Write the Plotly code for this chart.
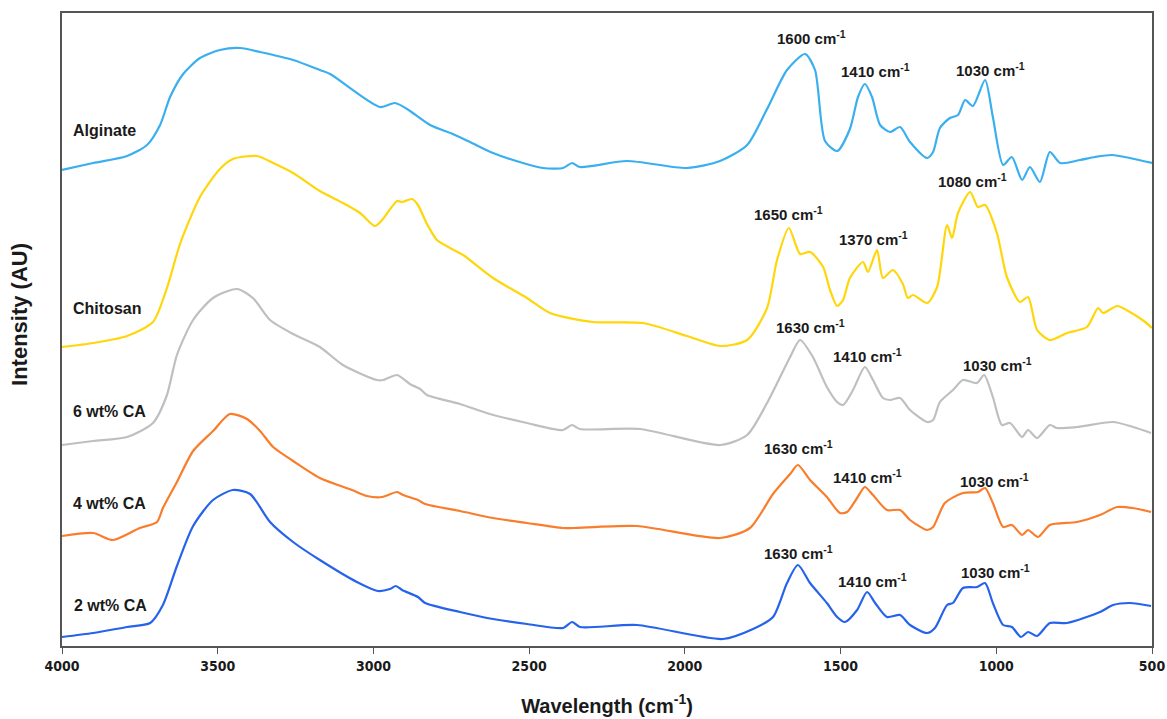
import plotly.graph_objects as go

# ---- Data (wavenumber in cm^-1, intensity in arbitrary units, offset stacked) ----
alg_wn = [4000, 3900, 3791, 3727, 3685, 3653, 3611, 3557, 3493, 3428, 3364, 3258, 3172, 3139,
          2979, 2931, 2892, 2818, 2745, 2690, 2616, 2520, 2455, 2391, 2362, 2337, 2186, 1993,
          1887, 1800, 1736, 1672, 1614, 1582, 1550, 1511, 1470, 1444, 1422, 1399, 1373, 1341,
          1309, 1277, 1222, 1203, 1181, 1149, 1123, 1100, 1075, 1036, 1011, 978, 950, 917,
          892, 860, 828, 795, 731, 683, 628, 571, 500]
alg_i = [476, 483, 490, 501, 521, 549, 572, 588, 596, 598, 594, 586, 576, 572,
         539, 543, 537, 521, 512, 504, 493, 483, 478, 478, 483, 479, 485, 478,
         485, 501, 537, 576, 592, 576, 505, 495, 517, 549, 562, 549, 521, 514,
         519, 504, 488, 494, 518, 528, 531, 546, 540, 566, 529, 481, 489, 466,
         479, 464, 494, 483, 486, 489, 491, 488, 483]

chi_wn = [4000, 3900, 3791, 3708, 3663, 3621, 3557, 3493, 3451, 3374, 3322, 3258, 3172, 3098,
          3043, 2995, 2972, 2924, 2908, 2876, 2857, 2828, 2796, 2754, 2712, 2616, 2507, 2433,
          2295, 2134, 1993, 1887, 1800, 1736, 1704, 1666, 1630, 1598, 1556, 1534, 1511, 1492,
          1470, 1428, 1412, 1383, 1364, 1332, 1300, 1284, 1267, 1222, 1190, 1158, 1142, 1123,
          1084, 1059, 1036, 998, 966, 924, 898, 869, 828, 773, 709, 673, 657, 612, 571, 522, 500]
chi_i = [299, 303, 310, 324, 358, 402, 449, 477, 487, 490, 483, 473, 455, 443,
         433, 420, 426, 445, 444, 447, 441, 422, 406, 398, 391, 368, 348, 333,
         324, 323, 310, 300, 306, 338, 386, 418, 392, 394, 379, 356, 340, 346,
         368, 384, 374, 396, 368, 376, 362, 348, 351, 343, 359, 421, 408, 433,
         454, 439, 441, 413, 369, 344, 349, 316, 306, 313, 319, 338, 333, 340, 334, 324, 318]

ca6_wn = [4000, 3900, 3791, 3708, 3663, 3631, 3579, 3515, 3438, 3387, 3332, 3258, 3172, 3098,
          2989, 2969, 2924, 2883, 2850, 2828, 2722, 2626, 2507, 2391, 2362, 2337, 2144, 1887,
          1800, 1736, 1662, 1630, 1589, 1544, 1511, 1492, 1460, 1422, 1396, 1364, 1341, 1309,
          1277, 1222, 1203, 1181, 1139, 1107, 1062, 1039, 1011, 982, 956, 917, 898, 869, 828,
          805, 741, 625, 561, 503]
ca6_i = [201, 205, 209, 223, 251, 291, 326, 348, 357, 348, 326, 312, 299, 281,
         266, 266, 271, 262, 257, 251, 242, 232, 223, 216, 221, 217, 217, 201,
         211, 243, 289, 306, 289, 259, 244, 241, 256, 279, 266, 248, 246, 248,
         236, 224, 226, 244, 256, 266, 263, 271, 249, 221, 223, 209, 216, 208, 221,
         218, 219, 224, 219, 213]

ca4_wn = [4000, 3900, 3836, 3750, 3695, 3676, 3631, 3579, 3515, 3461, 3406, 3364, 3322, 3258,
          3172, 3069, 3021, 2972, 2924, 2905, 2857, 2834, 2722, 2616, 2507, 2391, 2359, 2154,
          1887, 1791, 1717, 1662, 1637, 1598, 1544, 1502, 1479, 1447, 1422, 1396, 1351, 1309,
          1277, 1222, 1203, 1165, 1107, 1059, 1036, 1011, 978, 950, 917, 898, 866, 828, 741,
          667, 612, 561, 503]
ca4_i = [110, 113, 106, 118, 124, 138, 164, 195, 215, 232, 227, 215, 199, 185,
         168, 156, 150, 149, 154, 151, 146, 142, 135, 128, 123, 118, 118, 120,
         108, 118, 152, 172, 181, 166, 149, 133, 134, 148, 159, 151, 136, 136,
         126, 116, 119, 143, 153, 154, 158, 143, 119, 121, 111, 116, 109, 121, 124,
         131, 139, 138, 134]

ca2_wn = [4000, 3900, 3791, 3717, 3676, 3631, 3579, 3515, 3451, 3396, 3332, 3258, 3172, 3053,
          2985, 2947, 2928, 2908, 2857, 2834, 2722, 2616, 2507, 2391, 2362, 2337, 2154, 1878,
          1781, 1717, 1672, 1637, 1598, 1544, 1511, 1486, 1447, 1415, 1389, 1351, 1309, 1277,
          1222, 1197, 1158, 1139, 1107, 1062, 1036, 1011, 978, 950, 921, 898, 869, 828, 773,
          667, 625, 571, 503]
ca2_i = [9, 13, 19, 23, 41, 80, 120, 146, 156, 152, 124, 104, 86, 64,
         55, 57, 60, 56, 49, 43, 34, 27, 22, 18, 24, 19, 21, 7,
         17, 29, 63, 81, 63, 43, 29, 24, 36, 54, 43, 29, 31, 21,
         13, 18, 41, 43, 58, 59, 63, 43, 21, 19, 9, 14, 10, 23, 23,
         34, 41, 43, 40]

series_names = ["Alginate", "Chitosan", "6 wt% CA", "4 wt% CA", "2 wt% CA"]
series_colors = ["#3AAFEF", "#FFD60A", "#BFBFBF", "#F97D2B", "#2563EB"]
series_wn = [alg_wn, chi_wn, ca6_wn, ca4_wn, ca2_wn]
series_i = [alg_i, chi_i, ca6_i, ca4_i, ca2_i]

# sample name labels (wavenumber of left edge, intensity)
name_wn = [3972, 3972, 3970, 3970, 3967]
name_i = [516, 338, 235, 143, 41]

# peak labels
peak_text = ["1600", "1410", "1030", "1650", "1370", "1080",
             "1630", "1410", "1030", "1630", "1410", "1030",
             "1630", "1410", "1030"]
peak_wn = [1592, 1389, 1020, 1666, 1393, 1075,
           1598, 1415, 995, 1634, 1415, 1007,
           1634, 1396, 1004]
peak_i = [609, 576, 577, 433, 408, 466,
          320, 291, 282, 199, 170, 166,
          94, 66, 75]

x_ticks = [4000, 3500, 3000, 2500, 2000, 1500, 1000, 500]

fig = go.Figure()
for name, col, wn, inten in zip(series_names, series_colors, series_wn, series_i):
    fig.add_trace(go.Scatter(x=wn, y=inten, mode="lines", name=name,
                             line=dict(color=col, width=2.2, shape="spline", smoothing=0.7),
                             showlegend=False))

for name, wx, iy in zip(series_names, name_wn, name_i):
    fig.add_annotation(x=wx, y=iy, text="<b>" + name + "</b>", showarrow=False,
                       xanchor="left", yanchor="middle",
                       font=dict(family="Arial, Liberation Sans", size=16, color="#1a1a1a"))

for t, wx, iy in zip(peak_text, peak_wn, peak_i):
    fig.add_annotation(x=wx, y=iy, text="<b>" + t + " cm<sup>-1</sup></b>", showarrow=False,
                       xanchor="center", yanchor="middle",
                       font=dict(family="Arial, Liberation Sans", size=15, color="#1a1a1a"))

# y-axis title as a rotated annotation
fig.add_annotation(xref="paper", yref="paper", x=-0.0385, y=0.523,
                   text="<b>Intensity (AU)</b>", textangle=-90, showarrow=False,
                   xanchor="center", yanchor="middle",
                   font=dict(family="Arial, Liberation Sans", size=22, color="#1a1a1a"))

fig.update_layout(
    width=1167, height=719, autosize=False,
    margin=dict(l=62, r=15, t=13, b=73),
    plot_bgcolor="white", paper_bgcolor="white",
    xaxis=dict(range=[4000, 500], tickvals=x_ticks, ticktext=["<b>" + str(v) + "</b>" for v in x_ticks],
               automargin=False,
               showgrid=False, zeroline=False, showline=True, linecolor="#555555", linewidth=1.5,
               mirror=True, ticks="outside", ticklen=6, tickcolor="#555555",
               tickfont=dict(family="DejaVu Sans Condensed, Arial", size=14, color="#1a1a1a"),
               title=dict(text="<b>Wavelength (cm<sup>-1</sup>)</b>", standoff=26,
                          font=dict(family="Arial, Liberation Sans", size=20, color="#1a1a1a"))),
    yaxis=dict(range=[0, 633], showticklabels=False, showgrid=False, zeroline=False,
               automargin=False,
               showline=True, linecolor="#555555", linewidth=1.5, mirror=True, ticks=""),
)

fig.write_html("out.html", config={"responsive": False, "displayModeBar": False},
               post_script="document.body.style.margin='0px';document.body.style.overflow='hidden';")
